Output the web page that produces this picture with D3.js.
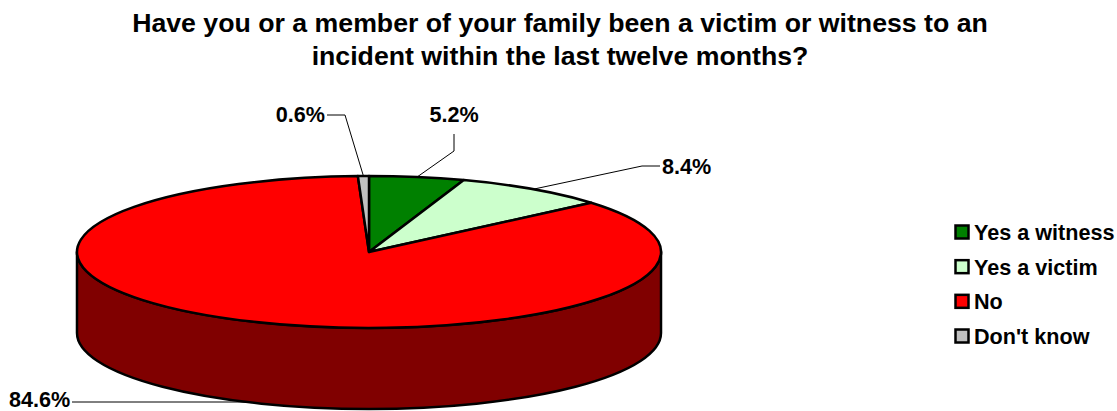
<!DOCTYPE html>
<html>
<head>
<meta charset="utf-8">
<script src="https://cdn.jsdelivr.net/npm/d3@7"></script>
<style>
  html, body { margin: 0; padding: 0; background: #fff; }
  svg { display: block; }
  text { font-family: "Liberation Sans", Arial, sans-serif; font-weight: bold; fill: #000; }
</style>
</head>
<body>
<div id="chart"></div>
<script>
const categories = ["Yes a witness", "Yes a victim", "No", "Don't know"];
const values = [5.2, 8.4, 84.6, 0.6];
const colors = ["#008000", "#ccffcc", "#ff0000", "#c0c0c0"];
const sideColors = ["#004000", "#668066", "#800000", "#606060"];
const titleLines = [
    "Have you or a member of your family been a victim or witness to an",
    "incident within the last twelve months?"
];

const width = 1117, height = 411;
const cx = 369, cy = 252, rx = 292, ry = 76, depth = 81;

const svg = d3.select("#chart").append("svg")
    .attr("width", width)
    .attr("height", height);

// title
svg.append("g").selectAll("text")
    .data(titleLines)
    .enter().append("text")
    .attr("x", 560)
    .attr("y", (d, i) => 32 + i * 33)
    .attr("text-anchor", "middle")
    .style("font-size", "26.7px")
    .text(d => d);

const pie = d3.pie().sort(null).value(d => d);
const slices = pie(values);

// angle (clockwise from top) -> point on the flattened ellipse
const px = a => cx + rx * Math.sin(a);
const py = a => cy - ry * Math.cos(a);

// side wall, only the part of a slice facing the viewer
function sideD(d) {
    const a0 = Math.max(d.startAngle, Math.PI / 2);
    const a1 = Math.min(d.endAngle, Math.PI * 1.5);
    if (a1 <= a0) return null;
    const large = a1 - a0 > Math.PI ? 1 : 0;
    return "M" + px(a0) + "," + py(a0) +
        "L" + px(a0) + "," + (py(a0) + depth) +
        "A" + rx + "," + ry + " 0 " + large + " 1 " + px(a1) + "," + (py(a1) + depth) +
        "L" + px(a1) + "," + py(a1) +
        "A" + rx + "," + ry + " 0 " + large + " 0 " + px(a0) + "," + py(a0) + "Z";
}

svg.append("g").selectAll("path")
    .data(slices.filter(d => sideD(d)))
    .enter().append("path")
    .attr("d", sideD)
    .attr("fill", d => sideColors[d.index])
    .attr("stroke", "#000")
    .attr("stroke-width", 2.5)
    .attr("stroke-linejoin", "round");

// top face: d3.arc squashed into an ellipse
const arc = d3.arc().innerRadius(0).outerRadius(rx);
svg.append("g")
    .attr("transform", "translate(" + cx + "," + cy + ") scale(1," + (ry / rx) + ")")
    .selectAll("path")
    .data(slices)
    .enter().append("path")
    .attr("d", arc)
    .attr("fill", d => colors[d.index])
    .attr("stroke", "#000")
    .attr("stroke-width", 2.5)
    .attr("stroke-linejoin", "round")
    .attr("vector-effect", "non-scaling-stroke");

// leader lines: start on the rim, then elbow and label spot for each slice
const labelSpots = [
    { elbow: [454, 151], end: [454, 134], x: 454, y: 122, anchor: "middle", drop: 0 },
    { elbow: [642, 166], end: [660, 166], x: 662, y: 174, anchor: "start", drop: 0 },
    { elbow: [240, 402], end: [72, 402], x: 9, y: 407, anchor: "start", drop: depth },
    { elbow: [345, 115], end: [327, 115], x: 325, y: 122, anchor: "end", drop: 0 }
];

const leader = d3.line();
svg.append("g").selectAll("path")
    .data(slices)
    .enter().append("path")
    .attr("d", d => {
        const mid = (d.startAngle + d.endAngle) / 2;
        const s = labelSpots[d.index];
        return leader([[px(mid), py(mid) + s.drop], s.elbow, s.end]);
    })
    .attr("fill", "none")
    .attr("stroke", "#000")
    .attr("stroke-width", 1);

svg.append("g").selectAll("text")
    .data(slices)
    .enter().append("text")
    .attr("x", d => labelSpots[d.index].x)
    .attr("y", d => labelSpots[d.index].y)
    .attr("text-anchor", d => labelSpots[d.index].anchor)
    .style("font-size", "21.6px")
    .text(d => d3.format(".1f")(d.data) + "%");

// legend
const legendY = d3.scalePoint().domain(categories).range([225, 329]);
const legend = svg.append("g").selectAll("g")
    .data(categories)
    .enter().append("g")
    .attr("transform", d => "translate(955," + legendY(d) + ")");
legend.append("rect")
    .attr("x", 0.5).attr("y", 0.5)
    .attr("width", 13).attr("height", 13)
    .attr("fill", (d, i) => colors[i])
    .attr("stroke", "#000")
    .attr("stroke-width", 2.5);
legend.append("text")
    .attr("x", 19)
    .attr("y", 15)
    .style("font-size", "21.6px")
    .text(d => d);
</script>
</body>
</html>
